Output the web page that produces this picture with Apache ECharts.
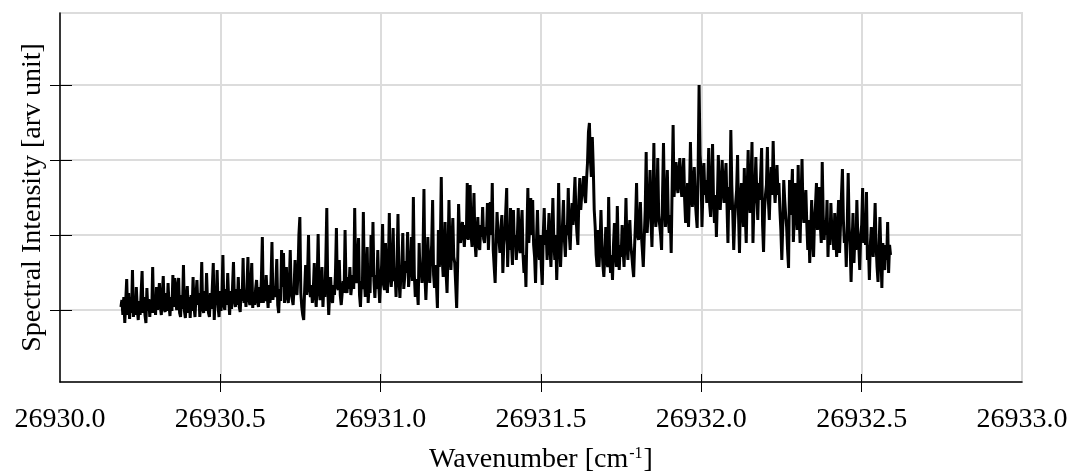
<!DOCTYPE html>
<html>
<head>
<meta charset="utf-8">
<title>Spectrum</title>
<script src="https://cdn.jsdelivr.net/npm/echarts@6.0.0/dist/echarts.min.js"></script>
<style>
  html, body { margin: 0; padding: 0; background: #fff; }
  #spectrum { width: 1068px; height: 473px; }
</style>
</head>
<body>
<div id="spectrum"></div>
<script>
// wavenumber [cm-1] and intensity [arb. unit], one row = 10 samples
const wavenumber = [
  26930.190,26930.193,26930.196,26930.199,26930.202,26930.205,26930.208,26930.211,26930.214,26930.217,
  26930.220,26930.223,26930.226,26930.229,26930.232,26930.235,26930.238,26930.241,26930.244,26930.247,
  26930.250,26930.253,26930.256,26930.259,26930.262,26930.265,26930.268,26930.271,26930.274,26930.277,
  26930.280,26930.283,26930.286,26930.289,26930.292,26930.295,26930.298,26930.301,26930.304,26930.307,
  26930.310,26930.313,26930.316,26930.319,26930.322,26930.325,26930.328,26930.331,26930.334,26930.337,
  26930.340,26930.343,26930.346,26930.349,26930.352,26930.355,26930.358,26930.361,26930.364,26930.367,
  26930.370,26930.373,26930.376,26930.379,26930.382,26930.385,26930.388,26930.391,26930.394,26930.397,
  26930.400,26930.403,26930.406,26930.409,26930.412,26930.415,26930.418,26930.421,26930.424,26930.427,
  26930.430,26930.433,26930.436,26930.439,26930.442,26930.445,26930.448,26930.451,26930.454,26930.457,
  26930.460,26930.463,26930.466,26930.469,26930.472,26930.475,26930.478,26930.481,26930.484,26930.487,
  26930.490,26930.493,26930.496,26930.499,26930.502,26930.505,26930.508,26930.511,26930.514,26930.517,
  26930.520,26930.523,26930.526,26930.529,26930.532,26930.535,26930.538,26930.541,26930.544,26930.547,
  26930.550,26930.553,26930.556,26930.559,26930.562,26930.565,26930.568,26930.571,26930.574,26930.577,
  26930.580,26930.583,26930.586,26930.589,26930.592,26930.595,26930.598,26930.601,26930.604,26930.607,
  26930.610,26930.613,26930.616,26930.619,26930.622,26930.625,26930.628,26930.631,26930.634,26930.637,
  26930.640,26930.643,26930.646,26930.649,26930.652,26930.655,26930.658,26930.661,26930.664,26930.667,
  26930.670,26930.673,26930.676,26930.679,26930.682,26930.685,26930.688,26930.691,26930.694,26930.697,
  26930.700,26930.703,26930.706,26930.709,26930.712,26930.715,26930.718,26930.721,26930.724,26930.727,
  26930.730,26930.733,26930.736,26930.739,26930.742,26930.745,26930.748,26930.751,26930.754,26930.757,
  26930.760,26930.763,26930.766,26930.769,26930.772,26930.775,26930.778,26930.781,26930.784,26930.787,
  26930.790,26930.793,26930.796,26930.799,26930.802,26930.805,26930.808,26930.811,26930.814,26930.817,
  26930.820,26930.823,26930.826,26930.829,26930.832,26930.835,26930.838,26930.841,26930.844,26930.847,
  26930.850,26930.853,26930.856,26930.859,26930.862,26930.865,26930.868,26930.871,26930.874,26930.877,
  26930.880,26930.883,26930.886,26930.889,26930.892,26930.895,26930.898,26930.901,26930.904,26930.907,
  26930.910,26930.913,26930.916,26930.919,26930.922,26930.925,26930.928,26930.931,26930.934,26930.937,
  26930.940,26930.943,26930.946,26930.949,26930.952,26930.955,26930.958,26930.961,26930.964,26930.967,
  26930.970,26930.973,26930.976,26930.979,26930.982,26930.985,26930.988,26930.991,26930.994,26930.997,
  26931.000,26931.003,26931.006,26931.009,26931.012,26931.015,26931.018,26931.021,26931.024,26931.027,
  26931.030,26931.033,26931.036,26931.039,26931.042,26931.045,26931.048,26931.051,26931.054,26931.057,
  26931.060,26931.063,26931.066,26931.069,26931.072,26931.075,26931.078,26931.081,26931.084,26931.087,
  26931.090,26931.093,26931.096,26931.099,26931.102,26931.105,26931.108,26931.111,26931.114,26931.117,
  26931.120,26931.123,26931.126,26931.129,26931.132,26931.135,26931.138,26931.141,26931.144,26931.147,
  26931.150,26931.153,26931.156,26931.159,26931.162,26931.165,26931.168,26931.171,26931.174,26931.177,
  26931.180,26931.183,26931.186,26931.189,26931.192,26931.195,26931.198,26931.201,26931.204,26931.207,
  26931.210,26931.213,26931.216,26931.219,26931.222,26931.225,26931.228,26931.231,26931.234,26931.237,
  26931.240,26931.243,26931.246,26931.249,26931.252,26931.255,26931.258,26931.261,26931.264,26931.267,
  26931.270,26931.273,26931.276,26931.279,26931.282,26931.285,26931.288,26931.291,26931.294,26931.297,
  26931.300,26931.303,26931.306,26931.309,26931.312,26931.315,26931.318,26931.321,26931.324,26931.327,
  26931.330,26931.333,26931.336,26931.339,26931.342,26931.345,26931.348,26931.351,26931.354,26931.357,
  26931.360,26931.363,26931.366,26931.369,26931.372,26931.375,26931.378,26931.381,26931.384,26931.387,
  26931.390,26931.393,26931.396,26931.399,26931.402,26931.405,26931.408,26931.411,26931.414,26931.417,
  26931.420,26931.423,26931.426,26931.429,26931.432,26931.435,26931.438,26931.441,26931.444,26931.447,
  26931.450,26931.453,26931.456,26931.459,26931.462,26931.465,26931.468,26931.471,26931.474,26931.477,
  26931.480,26931.483,26931.486,26931.489,26931.492,26931.495,26931.498,26931.501,26931.504,26931.507,
  26931.510,26931.513,26931.516,26931.519,26931.522,26931.525,26931.528,26931.531,26931.534,26931.537,
  26931.540,26931.543,26931.546,26931.549,26931.552,26931.555,26931.558,26931.561,26931.564,26931.567,
  26931.570,26931.573,26931.576,26931.579,26931.582,26931.585,26931.588,26931.591,26931.594,26931.597,
  26931.600,26931.603,26931.606,26931.609,26931.612,26931.615,26931.618,26931.621,26931.624,26931.627,
  26931.630,26931.633,26931.636,26931.639,26931.642,26931.645,26931.648,26931.651,26931.654,26931.657,
  26931.660,26931.663,26931.666,26931.669,26931.672,26931.675,26931.678,26931.681,26931.684,26931.687,
  26931.690,26931.693,26931.696,26931.699,26931.702,26931.705,26931.708,26931.711,26931.714,26931.717,
  26931.720,26931.723,26931.726,26931.729,26931.732,26931.735,26931.738,26931.741,26931.744,26931.747,
  26931.750,26931.753,26931.756,26931.759,26931.762,26931.765,26931.768,26931.771,26931.774,26931.777,
  26931.780,26931.783,26931.786,26931.789,26931.792,26931.795,26931.798,26931.801,26931.804,26931.807,
  26931.810,26931.813,26931.816,26931.819,26931.822,26931.825,26931.828,26931.831,26931.834,26931.837,
  26931.840,26931.843,26931.846,26931.849,26931.852,26931.855,26931.858,26931.861,26931.864,26931.867,
  26931.870,26931.873,26931.876,26931.879,26931.882,26931.885,26931.888,26931.891,26931.894,26931.897,
  26931.900,26931.903,26931.906,26931.909,26931.912,26931.915,26931.918,26931.921,26931.924,26931.927,
  26931.930,26931.933,26931.936,26931.939,26931.942,26931.945,26931.948,26931.951,26931.954,26931.957,
  26931.960,26931.963,26931.966,26931.969,26931.972,26931.975,26931.978,26931.981,26931.984,26931.987,
  26931.990,26931.993,26931.996,26931.999,26932.002,26932.005,26932.008,26932.011,26932.014,26932.017,
  26932.020,26932.023,26932.026,26932.029,26932.032,26932.035,26932.038,26932.041,26932.044,26932.047,
  26932.050,26932.053,26932.056,26932.059,26932.062,26932.065,26932.068,26932.071,26932.074,26932.077,
  26932.080,26932.083,26932.086,26932.089,26932.092,26932.095,26932.098,26932.101,26932.104,26932.107,
  26932.110,26932.113,26932.116,26932.119,26932.122,26932.125,26932.128,26932.131,26932.134,26932.137,
  26932.140,26932.143,26932.146,26932.149,26932.152,26932.155,26932.158,26932.161,26932.164,26932.167,
  26932.170,26932.173,26932.176,26932.179,26932.182,26932.185,26932.188,26932.191,26932.194,26932.197,
  26932.200,26932.203,26932.206,26932.209,26932.212,26932.215,26932.218,26932.221,26932.224,26932.227,
  26932.230,26932.233,26932.236,26932.239,26932.242,26932.245,26932.248,26932.251,26932.254,26932.257,
  26932.260,26932.263,26932.266,26932.269,26932.272,26932.275,26932.278,26932.281,26932.284,26932.287,
  26932.290,26932.293,26932.296,26932.299,26932.302,26932.305,26932.308,26932.311,26932.314,26932.317,
  26932.320,26932.323,26932.326,26932.329,26932.332,26932.335,26932.338,26932.341,26932.344,26932.347,
  26932.350,26932.353,26932.356,26932.359,26932.362,26932.365,26932.368,26932.371,26932.374,26932.377,
  26932.380,26932.383,26932.386,26932.389,26932.392,26932.395,26932.398,26932.401,26932.404,26932.407,
  26932.410,26932.413,26932.416,26932.419,26932.422,26932.425,26932.428,26932.431,26932.434,26932.437,
  26932.440,26932.443,26932.446,26932.449,26932.452,26932.455,26932.458,26932.461,26932.464,26932.467,
  26932.470,26932.473,26932.476,26932.479,26932.482,26932.485,26932.488,26932.491,26932.494,26932.497,
  26932.500,26932.503,26932.506,26932.509,26932.512,26932.515,26932.518,26932.521,26932.524,26932.527,
  26932.530,26932.533,26932.536,26932.539,26932.542,26932.545,26932.548,26932.551,26932.554,26932.557,
  26932.560,26932.563,26932.566,26932.569,26932.572,26932.575,26932.578,26932.581,26932.584,26932.587,
  26932.590
];

const intensity = [
  78,85,70,88,62,84,106,70,92,66,
  88,72,115,68,86,70,98,76,65,84,
  70,92,114,72,88,70,62,97,74,86,
  68,85,72,118,72,90,70,98,75,88,
  102,78,70,90,109,76,73,92,74,102,
  80,69,88,74,110,78,107,84,75,100,
  107,72,68,90,76,120,74,67,86,99,
  72,88,67,90,74,108,78,68,88,105,
  80,92,68,86,123,76,72,94,74,112,
  84,72,68,92,76,98,122,65,88,80,
  115,78,68,94,74,90,130,80,75,96,
  80,112,86,70,94,76,98,123,84,78,
  96,80,108,78,73,96,84,127,82,90,
  78,98,128,86,80,100,122,77,92,80,
  96,105,84,78,98,82,106,148,82,95,
  84,110,90,77,100,82,104,143,85,98,
  88,100,126,80,72,96,84,135,98,132,
  82,96,118,88,82,100,135,92,86,80,
  98,125,94,90,110,150,168,92,78,70,
  65,96,120,90,110,150,96,88,100,82,
  96,122,90,78,104,151,96,85,100,118,
  78,100,88,125,177,96,70,92,108,86,
  82,100,90,112,157,98,95,125,90,80,
  78,104,92,155,100,92,108,96,118,90,
  88,110,96,177,112,102,126,147,90,78,
  104,96,173,106,88,110,138,82,100,92,
  150,108,163,104,87,110,96,135,100,82,
  104,120,161,100,95,142,108,92,118,172,
  110,98,116,157,104,112,88,120,171,108,
  87,110,120,152,96,108,124,112,153,98,
  112,120,148,104,188,110,88,106,96,80,
  142,108,118,102,130,196,110,85,112,148,
  118,102,126,140,185,110,97,120,100,77,
  155,118,136,208,126,108,130,163,112,92,
  130,185,136,115,140,167,128,122,100,77,
  120,181,150,142,156,163,150,138,160,146,
  202,145,160,200,150,138,158,192,144,128,
  150,168,140,135,160,148,178,146,142,158,
  150,182,135,160,183,150,202,135,118,102,
  140,173,150,145,132,158,170,112,140,150,
  150,197,118,150,135,177,140,120,175,138,
  150,125,145,177,140,132,158,175,130,112,
  130,98,150,197,142,160,187,150,185,140,
  128,102,145,175,138,125,150,118,100,150,
  177,140,155,125,148,172,138,118,150,187,
  145,125,150,105,140,202,150,118,145,160,
  185,145,128,160,150,197,152,135,165,182,
  160,185,208,170,152,140,185,207,175,190,
  195,209,190,182,205,222,253,262,225,208,
  248,218,175,158,130,118,155,118,140,175,
  140,120,108,130,158,125,118,188,130,112,
  130,105,140,162,132,118,179,135,115,140,
  128,160,135,118,145,187,140,125,150,165,
  140,130,118,108,140,165,202,150,145,160,
  183,150,135,118,148,175,233,152,170,185,
  215,165,138,180,242,175,158,170,227,170,
  160,150,135,190,242,180,158,185,215,165,
  152,170,132,200,260,188,205,223,200,192,
  215,227,200,188,210,227,185,162,180,202,
  158,190,243,195,178,200,218,185,170,157,
  215,300,230,215,158,195,222,190,205,182,
  200,237,180,168,200,241,185,162,190,148,
  185,230,190,175,200,225,195,182,205,222,
  180,142,198,175,255,200,172,135,165,182,
  195,230,170,132,185,202,175,158,217,170,
  142,195,235,185,172,205,243,142,180,195,
  228,190,165,202,185,210,237,160,133,175,
  190,200,238,185,165,200,218,190,244,200,
  182,200,220,190,202,175,155,125,160,205,
  185,170,158,135,117,205,170,190,216,143,
  170,202,180,155,220,170,142,185,226,175,
  162,180,195,160,135,165,122,150,185,150,
  128,165,180,202,155,170,198,160,142,223,
  170,145,165,150,185,128,160,140,182,155,
  150,135,172,150,128,160,185,132,160,190,
  216,165,142,150,118,160,212,158,140,103,
  140,172,122,150,135,185,148,140,115,150,
  160,197,142,160,140,193,125,140,105,140,
  158,140,128,150,182,140,118,103,135,168,
  130,97,142,125,115,140,125,163,112,140,
  130
];

const xTicks = [26930.5, 26931.0, 26931.5, 26932.0, 26932.5];
const yTicks = [75, 150, 225, 300];

const FONT = "'Liberation Serif', 'Times New Roman', serif";

const myChart = echarts.init(document.getElementById('spectrum'));

const points = wavenumber.map((w, i) => [w, intensity[i]]);

const option = {
    animation: false,
    backgroundColor: '#fff',
    grid: {
        left: 60,
        right: 46,
        top: 13,
        bottom: 91,
        containLabel: false,
        outerBoundsMode: 'none',
        show: true,
        borderColor: '#dcdcdc',
        borderWidth: 2
    },
    xAxis: [
        {
            type: 'value',
            position: 'bottom',
            min: 26930,
            max: 26933,
            interval: 0.5,
            name: '{n|Wavenumber [cm}{sup|-1}{n|]}',
            nameLocation: 'middle',
            nameGap: 64,
            nameTextStyle: {
                rich: {
                    n: { fontFamily: FONT, fontSize: 28, color: '#000' },
                    sup: { fontFamily: FONT, fontSize: 16, color: '#000', verticalAlign: 'top', padding: [0, 1, 0, 1] }
                }
            },
            axisLine: { show: true, lineStyle: { color: '#000', width: 1.5 } },
            axisTick: { show: true, length: 10, customValues: xTicks, lineStyle: { color: '#000', width: 1 } },
            axisLabel: {
                showMinLabel: true,
                showMaxLabel: true,
                margin: 24,
                fontFamily: FONT,
                fontSize: 28,
                color: '#000',
                formatter: v => v.toFixed(1)
            },
            splitLine: { show: true, lineStyle: { color: '#dcdcdc', width: 2 } }
        },
        {
            // inner half of the crossing ticks
            type: 'value',
            position: 'bottom',
            min: 26930,
            max: 26933,
            interval: 0.5,
            axisLine: { show: false },
            axisTick: { show: true, inside: true, length: 8, customValues: xTicks, lineStyle: { color: '#000', width: 1 } },
            axisLabel: { show: false },
            splitLine: { show: false }
        }
    ],
    yAxis: [
        {
            type: 'value',
            position: 'left',
            min: 3,
            max: 372,
            name: 'Spectral Intensity [arv unit]',
            nameLocation: 'middle',
            nameGap: 13,
            nameTextStyle: { fontFamily: FONT, fontSize: 28, color: '#000' },
            axisLine: { show: true, lineStyle: { color: '#000', width: 1.5 } },
            axisTick: { show: true, length: 10, customValues: yTicks, lineStyle: { color: '#000', width: 1 } },
            axisLabel: { show: false },
            splitLine: { show: true, lineStyle: { color: '#dcdcdc', width: 2 } }
        },
        {
            type: 'value',
            position: 'left',
            min: 3,
            max: 372,
            axisLine: { show: false },
            axisTick: { show: true, inside: true, length: 12, customValues: yTicks, lineStyle: { color: '#000', width: 1 } },
            axisLabel: { show: false },
            splitLine: { show: false }
        }
    ],
    series: [
        {
            name: 'spectrum',
            type: 'line',
            xAxisIndex: 0,
            yAxisIndex: 0,
            data: points,
            showSymbol: false,
            symbol: 'none',
            sampling: false,
            lineStyle: { color: '#000', width: 3, join: 'bevel' },
            z: 5
        }
    ]
};

myChart.setOption(option);
window.addEventListener('resize', function () {
    myChart.resize();
});
</script>
</body>
</html>
